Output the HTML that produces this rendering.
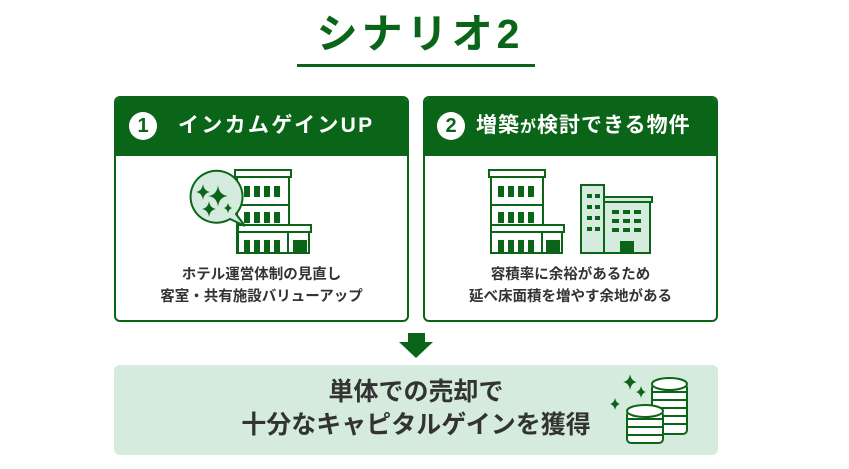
<!DOCTYPE html>
<html><head><meta charset="utf-8"><style>
body{margin:0;width:849px;height:469px;background:#fff;overflow:hidden;position:relative;font-family:"Liberation Sans","Noto Sans CJK JP",sans-serif;}
.a{position:absolute;}
.t{font-weight:bold;white-space:nowrap;}
</style></head><body>
<div class="a t" style="left:280px;top:9px;width:280px;text-align:center;font-size:41px;line-height:50px;color:#0b6518;letter-spacing:4px">シナリオ2</div>
<div class="a" style="left:297px;top:64px;width:238px;height:3px;background:#0b6518"></div>

<div class="a" style="left:114px;top:96px;width:291px;height:222px;border:2px solid #0b6518;border-radius:6px;overflow:hidden">
 <div style="height:58px;background:#0b6518;"></div>
</div>
<div class="a" style="left:423px;top:96px;width:291px;height:222px;border:2px solid #0b6518;border-radius:6px;overflow:hidden">
 <div style="height:58px;background:#0b6518;"></div>
</div>
<div class="a" style="left:129px;top:112px;width:28px;height:28px;border-radius:50%;background:#fff;color:#0b6518;font-weight:bold;font-size:20px;line-height:28px;text-align:center">1</div>
<div class="a t" style="left:178px;top:110px;font-size:21px;line-height:32px;color:#fff;letter-spacing:2.3px">インカムゲインUP</div>
<div class="a" style="left:437px;top:112px;width:28px;height:28px;border-radius:50%;background:#fff;color:#0b6518;font-weight:bold;font-size:20px;line-height:28px;text-align:center">2</div>
<div class="a t" style="left:476px;top:110px;font-size:21px;line-height:32px;color:#fff;letter-spacing:1px">増築<span style="font-size:16px">が</span>検討できる物件</div>

<div class="a t" style="left:114px;top:264px;width:295px;text-align:center;font-size:14.5px;line-height:22px;color:#333">ホテル運営体制の見直し<br>客室・共有施設バリューアップ</div>
<div class="a t" style="left:423px;top:264px;width:295px;text-align:center;font-size:14.5px;line-height:22px;color:#333">容積率に余裕があるため<br>延べ床面積を増やす余地がある</div>

<svg class="a" style="left:0;top:0" width="849" height="469">
<g fill="none" stroke="#0b6518" stroke-width="2">
 <rect x="235" y="170" width="56" height="7" fill="#fff"/>
 <rect x="237" y="177" width="52" height="76" fill="#fff"/>
 <line x1="237" y1="205" x2="289" y2="205"/>
 <rect x="238" y="225" width="73" height="7" fill="#fff"/>
 <rect x="238" y="232" width="71" height="21" fill="#fff"/>
 <line x1="288" y1="232" x2="288" y2="253"/>
 <path d="M236 214 A26 26 0 1 0 230 219 L245 226 Z" fill="#d5ebdd"/>
 <rect x="489" y="170" width="56" height="7" fill="#fff"/>
 <rect x="491" y="177" width="52" height="76" fill="#fff"/>
 <line x1="491" y1="205" x2="543" y2="205"/>
 <rect x="491" y="225" width="73" height="7" fill="#fff"/>
 <rect x="491" y="232" width="71" height="21" fill="#fff"/>
 <line x1="542" y1="232" x2="542" y2="253"/>
 <rect x="581" y="185" width="23" height="68" fill="#d5ebdd"/>
 <rect x="604" y="197" width="48" height="5" fill="#d5ebdd"/>
 <rect x="604" y="202" width="46" height="51" fill="#d5ebdd"/>
</g>
<g fill="#0b6518">
 <rect x="244" y="186" width="6" height="11"/><rect x="254" y="186" width="6" height="11"/><rect x="264" y="186" width="6" height="11"/><rect x="274" y="186" width="6" height="11"/>
 <rect x="244" y="212" width="6" height="11"/><rect x="254" y="212" width="6" height="11"/><rect x="264" y="212" width="6" height="11"/><rect x="274" y="212" width="6" height="11"/>
 <rect x="244" y="240" width="6" height="12"/><rect x="254" y="240" width="6" height="12"/><rect x="264" y="240" width="6" height="12"/><rect x="274" y="240" width="6" height="12"/><rect x="293" y="240" width="14" height="12"/>
 <rect x="498" y="186" width="6" height="11"/><rect x="508" y="186" width="6" height="11"/><rect x="518" y="186" width="6" height="11"/><rect x="528" y="186" width="6" height="11"/>
 <rect x="498" y="212" width="6" height="11"/><rect x="508" y="212" width="6" height="11"/><rect x="518" y="212" width="6" height="11"/><rect x="528" y="212" width="6" height="11"/>
 <rect x="498" y="240" width="6" height="12"/><rect x="508" y="240" width="6" height="12"/><rect x="518" y="240" width="6" height="12"/><rect x="528" y="240" width="6" height="12"/><rect x="546" y="240" width="14" height="12"/>
 <rect x="587" y="194" width="5" height="4"/><rect x="595" y="194" width="5" height="4"/>
 <rect x="587" y="205" width="5" height="4"/><rect x="595" y="205" width="5" height="4"/>
 <rect x="587" y="216" width="5" height="4"/><rect x="595" y="216" width="5" height="4"/>
 <rect x="587" y="227" width="5" height="4"/><rect x="595" y="227" width="5" height="4"/>
 <rect x="612" y="210" width="7" height="4"/><rect x="623" y="210" width="7" height="4"/><rect x="634" y="210" width="7" height="4"/>
 <rect x="612" y="219" width="7" height="4"/><rect x="623" y="219" width="7" height="4"/><rect x="634" y="219" width="7" height="4"/>
 <rect x="612" y="228" width="7" height="4"/><rect x="623" y="228" width="7" height="4"/><rect x="634" y="228" width="7" height="4"/>
 <rect x="620" y="241" width="14" height="12"/>
 <path d="M203 184 q1 7 7 8 q-6 1 -7 8 q-1 -7 -7 -8 q6 -1 7 -8z"/>
 <path d="M218 185 q1 10 10 11 q-9 1 -10 11 q-1 -10 -10 -11 q9 -1 10 -11z"/>
 <path d="M209 201 q1 7 7 8 q-6 1 -7 8 q-1 -7 -7 -8 q6 -1 7 -8z"/>
 <path d="M228 203 q1 4 4 5 q-3 1 -4 5 q-1 -4 -4 -5 q3 -1 4 -5z"/>
</g>
<path d="M408 333 H425 V342 H433 L416 358 L399 342 H408Z" fill="#0b6518"/>
</svg>

<div class="a" style="left:114px;top:365px;width:604px;height:90px;background:#d5ebdd;border-radius:6px"></div>
<div class="a t" style="left:114px;top:376px;width:604px;text-align:center;font-size:25px;line-height:33px;color:#333">単体での売却で<br>十分なキャピタルゲインを獲得</div>

<svg class="a" style="left:0;top:0" width="849" height="469">
<g fill="#0b6518">
 <path d="M630 374 q1 7 7 8 q-6 1 -7 8 q-1 -7 -7 -8 q6 -1 7 -8z"/>
 <path d="M641 386 q1 5 5 6 q-4 1 -5 6 q-1 -5 -5 -6 q4 -1 5 -6z"/>
 <path d="M615 398 q1 5 5 6 q-4 1 -5 6 q-1 -5 -5 -6 q4 -1 5 -6z"/>
</g>
<g stroke="#0b6518" stroke-width="2" fill="#fff">
 <rect x="652" y="384" width="35" height="50" rx="4"/>
 <line x1="652" y1="392" x2="687" y2="392"/><line x1="652" y1="400" x2="687" y2="400"/><line x1="652" y1="408" x2="687" y2="408"/><line x1="652" y1="416" x2="687" y2="416"/><line x1="652" y1="424" x2="687" y2="424"/>
 <ellipse cx="669.5" cy="384" rx="17.5" ry="6"/>
 <rect x="627" y="411" width="36" height="32" rx="4"/>
 <line x1="627" y1="419" x2="663" y2="419"/><line x1="627" y1="427" x2="663" y2="427"/><line x1="627" y1="435" x2="663" y2="435"/>
 <ellipse cx="645" cy="411" rx="18" ry="6"/>
</g>
</svg>
</body></html>
